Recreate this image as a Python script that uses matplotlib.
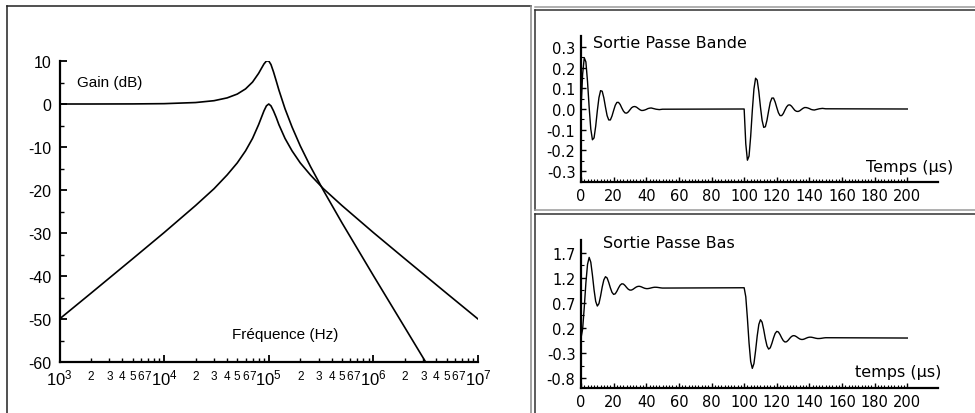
import matplotlib
matplotlib.use('Agg')
import matplotlib.pyplot as plt
from matplotlib.lines import Line2D

# ---------------- data ----------------
# Bode diagram (left): gain in dB vs frequency in Hz
freq_bp = [1e3, 2e3, 5e3, 1e4, 2e4, 3e4, 4e4, 5e4, 6e4, 7e4, 8e4, 8.5e4, 9e4, 9.5e4,
           1e5, 1.05e5, 1.11e5, 1.18e5, 1.25e5, 1.43e5, 1.67e5, 2e5, 2.5e5, 3.33e5,
           5e5, 1e6, 2e6, 5e6, 1e7]
gain_bp = [-50.0, -44.0, -36.0, -29.9, -23.6, -19.7, -16.5, -13.7, -10.9, -8.0, -4.8, -3.15,
           -1.6, -0.43, 0.0, -0.43, -1.6, -3.15, -4.8, -8.0, -10.9, -13.7, -16.5, -19.7,
           -23.6, -29.9, -36.0, -44.0, -50.0]
freq_lp = [1e3, 2e3, 5e3, 1e4, 2e4, 3e4, 4e4, 5e4, 6e4, 7e4, 8e4, 8.5e4, 9e4, 9.5e4,
           1e5, 1.05e5, 1.11e5, 1.18e5, 1.25e5, 1.43e5, 1.67e5, 2e5, 2.5e5, 3.33e5,
           5e5, 1e6, 2e6, 3.16e6]
gain_lp = [0.0, 0.0, 0.02, 0.08, 0.34, 0.77, 1.42, 2.31, 3.51, 5.10, 7.13, 8.26, 9.31, 10.0,
           10.0, 9.18, 7.48, 5.33, 3.25, -1.10, -5.36, -9.73, -14.5, -20.1,
           -27.6, -39.9, -52.0, -60.0]
gain_ticks = [10, 0, -10, -20, -30, -40, -50, -60]
gain_minor = [5, -5, -15, -25, -35, -45, -55]
decades = [1e3, 1e4, 1e5, 1e6, 1e7]
decade_labels = [r'$\mathregular{10^{3}}$', r'$\mathregular{10^{4}}$', r'$\mathregular{10^{5}}$',
                 r'$\mathregular{10^{6}}$', r'$\mathregular{10^{7}}$']
mantissas = [2, 3, 4, 5, 6, 7, 8, 9]
mantissa_labels = ['2', '3', '4', '5', '6', '7', '', '']

# Time responses (right): time in microseconds
t_rise = list(range(0, 51))
t_fall = list(range(100, 151))
t_end = [200]
bp_rise = [0.000, 0.169, 0.248, 0.228, 0.132, 0.008, -0.097, -0.149, -0.140, -0.084,
           -0.009, 0.055, 0.089, 0.086, 0.054, 0.009, -0.032, -0.053, -0.053, -0.034,
           -0.007, 0.018, 0.032, 0.032, 0.022, 0.005, -0.010, -0.019, -0.020, -0.014,
           -0.004, 0.006, 0.011, 0.012, 0.009, 0.003, -0.003, -0.007, -0.007, -0.005,
           -0.002, 0.002, 0.004, 0.005, 0.003, 0.001, -0.001, -0.002, -0.003, -0.002, -0.001]
bp_fall = [0.000, -0.169, -0.248, -0.228, -0.132, -0.008, 0.097, 0.149, 0.140, 0.084,
           0.009, -0.055, -0.089, -0.086, -0.054, -0.009, 0.032, 0.053, 0.053, 0.034,
           0.007, -0.018, -0.032, -0.032, -0.022, -0.005, 0.010, 0.019, 0.020, 0.014,
           0.004, -0.006, -0.011, -0.012, -0.009, -0.003, 0.003, 0.007, 0.007, 0.005,
           0.002, -0.002, -0.004, -0.005, -0.003, -0.001, 0.001, 0.002, 0.003, 0.002, 0.001]
bp_end = [0.0]
lp_rise = [0.000, 0.179, 0.610, 1.099, 1.465, 1.604, 1.509, 1.254, 0.959, 0.729,
           0.636, 0.685, 0.835, 1.015, 1.157, 1.220, 1.195, 1.106, 0.998, 0.909,
           0.868, 0.880, 0.931, 0.997, 1.052, 1.079, 1.074, 1.044, 1.004, 0.970,
           0.953, 0.955, 0.972, 0.996, 1.017, 1.028, 1.028, 1.018, 1.003, 0.990,
           0.983, 0.983, 0.989, 0.997, 1.005, 1.010, 1.010, 1.007, 1.002, 0.997, 0.994]
lp_fall = [1.000, 0.821, 0.390, -0.099, -0.465, -0.604, -0.509, -0.254, 0.041, 0.271,
           0.364, 0.315, 0.165, -0.015, -0.157, -0.220, -0.195, -0.106, 0.002, 0.091,
           0.132, 0.120, 0.069, 0.003, -0.052, -0.079, -0.074, -0.044, -0.004, 0.030,
           0.047, 0.045, 0.028, 0.004, -0.017, -0.028, -0.028, -0.018, -0.003, 0.010,
           0.017, 0.017, 0.011, 0.003, -0.005, -0.010, -0.010, -0.007, -0.002, 0.003, 0.006]
lp_end = [0.0]
bp_ticks = [0.3, 0.2, 0.1, 0.0, -0.1, -0.2, -0.3]
bp_tick_labels = ['0.3', '0.2', '0.1', '0.0', '-0.1', '-0.2', '-0.3']
lp_ticks = [1.7, 1.2, 0.7, 0.2, -0.3, -0.8]
lp_tick_labels = ['1.7', '1.2', '0.7', '0.2', '-0.3', '-0.8']
time_ticks = [0, 20, 40, 60, 80, 100, 120, 140, 160, 180, 200]

# ---------------- layout ----------------
W, H = 975, 414
fig = plt.figure(figsize=(W / 100, H / 100), dpi=100)
fig.patch.set_facecolor('white')


def px_axes(x0, y0, x1, y1):
    return [x0 / W, (H - y1) / H, (x1 - x0) / W, (y1 - y0) / H]


def frame_line(x0, y0, x1, y1, color):
    fig.add_artist(Line2D([x0 / W, x1 / W], [(H - y0) / H, (H - y1) / H],
                          transform=fig.transFigure, color=color, lw=1.1))


# panel frames
frame_line(7, 7, 531, 7, '#202020')
frame_line(7, 7, 7, 414, '#202020')
frame_line(531, 7, 531, 414, '#8a8a8a')
frame_line(535, 8, 975, 8, '#9a9a9a')
frame_line(535, 10.5, 975, 10.5, '#303030')
frame_line(535, 10.5, 535, 211, '#303030')
frame_line(535, 211, 975, 211, '#9a9a9a')
frame_line(535, 215, 975, 215, '#303030')
frame_line(535, 215, 535, 414, '#303030')

LEFT_FONT = 'Liberation Sans'
RIGHT_FONT = 'DejaVu Sans'

# ---------------- left: Bode plot ----------------
ax = fig.add_axes(px_axes(59.5, 62, 478, 363))
ax.set_xscale('log')
ax.plot(freq_lp, gain_lp, color='black', lw=1.2, solid_joinstyle='round')
ax.plot(freq_bp, gain_bp, color='black', lw=1.2, solid_joinstyle='round')
ax.set_xlim(1e3, 1e7)
ax.set_ylim(-60, 10)
for s in ('top', 'right'):
    ax.spines[s].set_visible(False)
for s in ('left', 'bottom'):
    ax.spines[s].set_linewidth(1.6)
ax.set_yticks(gain_ticks)
ax.set_yticklabels([str(v) for v in gain_ticks])
ax.set_yticks(gain_minor, minor=True)
ax.set_xticks(decades)
ax.set_xticklabels(decade_labels)
minor_pos = [m * d for d in decades[:-1] for m in mantissas]
minor_lab = [lab for d in decades[:-1] for lab in mantissa_labels]
ax.set_xticks(minor_pos, minor=True)
ax.set_xticklabels(minor_lab, minor=True)
ax.tick_params(axis='both', which='major', direction='in', length=5, width=1.3,
               labelfontfamily=LEFT_FONT)
ax.tick_params(axis='both', which='minor', direction='in', length=3, width=1.0,
               labelfontfamily=LEFT_FONT)
ax.tick_params(axis='y', which='major', labelsize=11.5, pad=6)
ax.tick_params(axis='x', which='major', labelsize=12, pad=4)
ax.tick_params(axis='x', which='minor', labelsize=8.5, pad=6)
ax.text(0.042, 0.93, 'Gain (dB)', transform=ax.transAxes, fontsize=11,
        family=LEFT_FONT, ha='left', va='center')
ax.text(0.412, 0.093, 'Fréquence (Hz)', transform=ax.transAxes, fontsize=11,
        family=LEFT_FONT, ha='left', va='center')


# ---------------- right: time responses ----------------
def time_axes(rect, t, y, ylim, ticks, labels, title, title_xy, xlabel, xlabel_xy):
    a = fig.add_axes(rect)
    a.plot(t, y, color='black', lw=1.0, solid_joinstyle='round')
    a.set_xlim(0, 219)
    a.set_ylim(*ylim)
    for s in ('top', 'right'):
        a.spines[s].set_visible(False)
    for s in ('left', 'bottom'):
        a.spines[s].set_linewidth(1.6)
    a.set_yticks(ticks)
    a.set_yticklabels(labels)
    a.set_xticks(time_ticks)
    a.set_xticklabels([str(v) for v in time_ticks])
    a.set_xticks(list(range(0, 201, 2)), minor=True)
    mid = [(ticks[i] + ticks[i + 1]) / 2 for i in range(len(ticks) - 1)]
    a.set_yticks(mid, minor=True)
    a.tick_params(axis='both', which='major', direction='in', length=3.5, width=1.0,
                  labelsize=10.5, labelfontfamily=RIGHT_FONT)
    a.tick_params(axis='both', which='minor', direction='in', length=2, width=0.8)
    a.tick_params(axis='y', which='major', pad=4)
    a.tick_params(axis='x', which='major', pad=4)
    a.text(title_xy[0], title_xy[1], title, transform=a.transAxes, fontsize=11.5,
           family=RIGHT_FONT, ha='left', va='center')
    a.text(xlabel_xy[0], xlabel_xy[1], xlabel, transform=a.transAxes, fontsize=11.5,
           family=RIGHT_FONT, ha='right', va='center')
    return a


time_axes(px_axes(581, 36.7, 938.3, 183.3), t_rise + t_fall + t_end,
          bp_rise + bp_fall + bp_end, (-0.355, 0.355), bp_ticks, bp_tick_labels,
          'Sortie Passe Bande', (0.034, 0.957), 'Temps (µs)', (1.041, 0.111))
time_axes(px_axes(581, 241, 938.3, 389.3), t_rise + t_fall + t_end,
          lp_rise + lp_fall + lp_end, (-1.0, 1.95), lp_ticks, lp_tick_labels,
          'Sortie Passe Bas', (0.062, 0.98), 'temps (µs)', (1.010, 0.110))

fig.savefig('out.png', dpi=100)
